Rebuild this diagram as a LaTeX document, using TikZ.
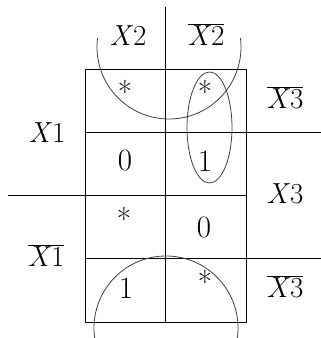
\documentclass[tikz,border=0pt]{standalone}
\begin{document}
\begin{tikzpicture}[x=1pt,y=-1pt,
  grid/.style={line width=1pt,black},
  loop/.style={line width=0.8pt,black!75},
  lbl/.style={anchor=base,inner sep=0pt,font=\fontsize{29}{34}\selectfont},
  val/.style={anchor=base,inner sep=0pt,font=\fontsize{31}{34}\selectfont}]
\useasboundingbox (0,0) rectangle (321,338);
% coordinates
\coordinate (tl) at (85,69);
\coordinate (br) at (246,322);
\coordinate (vt) at (165,7);
\coordinate (vb) at (165,322);
\coordinate (h1l) at (85,132);
\coordinate (h1r) at (321,132);
\coordinate (h2l) at (8,195);
\coordinate (h2r) at (246,195);
\coordinate (h3l) at (85,258);
\coordinate (h3r) at (321,258);
% grid
\draw[grid] (tl) rectangle (br);
\draw[grid] (vt) -- (vb);
\draw[grid] (h1l) -- (h1r);
\draw[grid] (h2l) -- (h2r);
\draw[grid] (h3l) -- (h3r);
% labels
\node[lbl] (x2) at (128,45) {\textit{X}2};
\node[lbl] (x2b) at (206,45) {$\overline{\mbox{\textit{X}2}}$};
\node[lbl] (x3ba) at (285,108) {$\overline{\mbox{\textit{X}3}}$};
\node[lbl] (x3) at (285,203) {\textit{X}3};
\node[lbl] (x3bb) at (285,297) {$\overline{\mbox{\textit{X}3}}$};
\node[lbl] (x1) at (47,142) {\textit{X}1};
\node[lbl] (x1b) at (46,266) {$\overline{\mbox{\textit{X}1}}$};
% values
\node[val] (c11) at (125,103) {*};
\node[val] (c12) at (205,103) {*};
\node[val] (c21) at (125,170) {0};
\node[val] (c22) at (205,171) {1};
\node[val] (c31) at (124,230) {*};
\node[val] (c32) at (204,237) {0};
\node[val] (c41) at (126,298) {1};
\node[val] (c42) at (205,293) {*};
% loops
\begin{scope}
\clip (0,38) rectangle (321,200);
\draw[loop] (169,47) circle[radius=72];
\end{scope}
\draw[loop] (209.5,127.5) ellipse[x radius=22.5,y radius=55.5];
\begin{scope}
\clip (0,200) rectangle (321,338);
\draw[loop] (166,328) circle[radius=72];
\end{scope}
\end{tikzpicture}
\end{document}
